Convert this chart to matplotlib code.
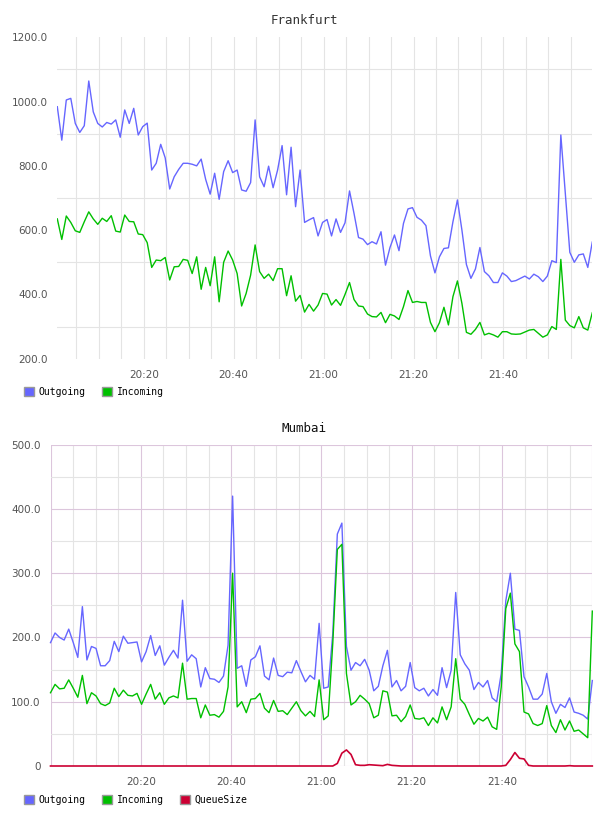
import numpy as np
import matplotlib
matplotlib.use("Agg")
import matplotlib.pyplot as plt
from matplotlib.patches import Patch

# Frankfurt: one sample per minute, first sample at about 20:00:46
fra_start = 0.77   # minutes after 20:00
fra_out = [984, 880, 1005, 1010, 932, 904, 925, 1064, 968, 932,
           921, 935, 930, 943, 889, 974, 932, 979, 896, 922,
           933, 787, 808, 867, 825, 728, 766, 789, 808, 808,
           805, 800, 821, 758, 712, 777, 696, 782, 816, 779,
           787, 725, 721, 748, 943, 766, 735, 799, 732, 787,
           863, 710, 858, 673, 787, 624, 632, 639, 582, 624,
           633, 582, 635, 593, 623, 722, 652, 577, 572, 555,
           564, 557, 595, 491, 546, 585, 536, 621, 666, 670,
           640, 631, 614, 520, 467, 517, 543, 545, 626, 694,
           600, 493, 450, 479, 546, 471, 458, 437, 437, 467,
           457, 440, 443, 450, 457, 448, 463, 455, 440, 457,
           505, 499, 896, 714, 531, 500, 523, 526, 484, 563]
fra_in = [635, 571, 644, 624, 598, 593, 626, 657, 635, 618,
          637, 627, 645, 597, 594, 647, 627, 626, 588, 586,
          561, 484, 507, 505, 515, 445, 486, 487, 509, 506,
          465, 517, 416, 484, 427, 517, 377, 500, 535, 507,
          465, 364, 403, 460, 554, 471, 450, 463, 443, 480,
          480, 396, 458, 379, 397, 345, 369, 348, 367, 403,
          401, 367, 384, 366, 400, 437, 384, 364, 362, 339,
          331, 330, 344, 312, 338, 333, 322, 362, 412, 375,
          378, 375, 375, 313, 284, 312, 360, 305, 393, 442,
          372, 282, 276, 291, 313, 274, 279, 274, 267, 284,
          284, 277, 276, 277, 283, 289, 291, 279, 267, 274,
          300, 291, 509, 320, 303, 296, 331, 296, 289, 343]

# Mumbai: 120 samples between 20:00 and 22:00
mum_span = 120.0
mum_out = [192, 207, 200, 196, 213, 192, 169, 248, 165, 186,
           183, 156, 156, 164, 194, 178, 202, 191, 192, 193,
           162, 178, 203, 172, 187, 157, 169, 180, 168, 258,
           163, 173, 167, 123, 153, 136, 135, 130, 140, 188,
           420, 152, 156, 124, 165, 170, 187, 140, 134, 168,
           141, 139, 146, 145, 164, 147, 131, 141, 135, 222,
           121, 123, 206, 361, 378, 186, 149, 161, 156, 166,
           149, 117, 124, 156, 180, 123, 133, 117, 124, 161,
           122, 117, 121, 109, 119, 110, 153, 122, 149, 270,
           173, 159, 149, 119, 130, 123, 133, 106, 100, 144,
           257, 300, 213, 211, 139, 123, 104, 104, 112, 144,
           100, 82, 96, 91, 106, 84, 82, 79, 73, 133]
mum_in = [114, 127, 120, 121, 134, 121, 107, 141, 97, 114,
          109, 97, 94, 98, 121, 108, 118, 110, 109, 113,
          96, 112, 127, 104, 114, 96, 106, 109, 106, 160,
          104, 105, 105, 75, 95, 79, 80, 76, 85, 123,
          300, 92, 100, 83, 104, 105, 113, 90, 83, 102,
          85, 86, 80, 90, 100, 86, 78, 85, 77, 134,
          72, 78, 191, 337, 345, 144, 95, 100, 110, 104,
          97, 75, 79, 117, 115, 78, 79, 69, 77, 95,
          74, 73, 75, 63, 75, 67, 92, 72, 92, 167,
          104, 96, 80, 65, 74, 70, 76, 61, 57, 123,
          245, 269, 190, 178, 84, 81, 66, 63, 66, 94,
          63, 52, 72, 56, 70, 54, 56, 50, 44, 241]
mum_queue = [0] * 63 + [4, 20, 25, 18, 2, 1, 1, 2, 1.5, 1,
                        0.5, 2.5, 1, 0.5] + [0] * 23 + \
            [1, 10, 21, 12, 11, 1] + [0] * 8 + [0.5] + [0] * 5

time_ticks = [20, 40, 60, 80, 100]
time_labels = ["20:20", "20:40", "21:00", "21:20", "21:40"]

C_OUT = "#6666ff"
C_IN = "#00c000"
C_Q = "#cc0033"
GRID = "#e4e4e4"
PURPLE = "#dcc6dc"
TXT = "#545454"
W, H = 608, 816

fra_t = fra_start + np.arange(len(fra_out))
mum_t = np.linspace(0, mum_span, len(mum_out))

fig = plt.figure(figsize=(W / 100, H / 100), dpi=100)
fig.patch.set_facecolor("white")


def box(x0, x1, y_top, y_bot):
    return [x0 / W, 1 - y_bot / H, (x1 - x0) / W, (y_bot - y_top) / H]


def fmt(v):
    return "0" if v == 0 else "%.1f" % v


def style(ax):
    for s in ax.spines.values():
        s.set_visible(False)
    ax.tick_params(which="both", length=0, labelsize=7.5, labelcolor=TXT)
    ax.tick_params(axis="x", pad=8)
    ax.tick_params(axis="y", pad=7)
    ax.set_axisbelow(True)


# ---- Frankfurt ----
ax1 = fig.add_axes(box(57.3, 592.3, 37.3, 358.7))
ax1.plot(fra_t, fra_out, color=C_OUT, lw=1.0)
ax1.plot(fra_t, fra_in, color=C_IN, lw=1.0)
ax1.set_xlim(fra_t[0], fra_t[-1])
ax1.set_ylim(200, 1200)
ax1.set_xticks(time_ticks)
ax1.set_xticklabels(time_labels)
ax1.set_xticks(np.arange(5, 120, 5), minor=True)
yt = np.arange(200, 1201, 200)
ax1.set_yticks(yt)
ax1.set_yticklabels([fmt(v) for v in yt])
ax1.set_yticks(np.arange(300, 1200, 200), minor=True)
ax1.grid(axis="x", which="both", color=GRID, lw=0.8)
ax1.grid(axis="y", which="minor", color=GRID, lw=0.8)
style(ax1)
fig.text(304 / W, 1 - 20 / H, "Frankfurt", ha="center", va="center",
         family="DejaVu Sans Mono", fontsize=9, color="#333333")

# ---- Mumbai ----
ax2 = fig.add_axes(box(50.5, 592.3, 444.7, 766))
ax2.plot(mum_t, mum_out, color=C_OUT, lw=1.0, clip_on=False)
ax2.plot(mum_t, mum_in, color=C_IN, lw=1.0, clip_on=False)
ax2.plot(mum_t, mum_queue, color=C_Q, lw=1.2, clip_on=False)
ax2.set_xlim(0, mum_span)
ax2.set_ylim(0, 500)
ax2.set_xticks(np.arange(0, 121, 20))
ax2.set_xticklabels([""] + time_labels + [""])
ax2.set_xticks(np.arange(5, 120, 5), minor=True)
yt2 = np.arange(0, 501, 100)
ax2.set_yticks(yt2)
ax2.set_yticklabels([fmt(v) for v in yt2])
ax2.set_yticks(np.arange(50, 500, 100), minor=True)
ax2.grid(which="minor", color=GRID, lw=0.8)
ax2.grid(which="major", color=PURPLE, lw=0.8)
style(ax2)
fig.text(304 / W, 1 - 429 / H, "Mumbai", ha="center", va="center",
         family="DejaVu Sans Mono", fontsize=9, color="#111111")

# ---- legends ----
def legend(items, y):
    handles = [Patch(facecolor=c, edgecolor="#999999", lw=1.0) for c, _ in items]
    fig.legend(handles, [n for _, n in items], loc="center left",
               bbox_to_anchor=(24 / W, 1 - y / H), ncol=len(items), frameon=False,
               prop={"family": "DejaVu Sans Mono", "size": 7},
               handlelength=1.0, handleheight=1.0, handletextpad=0.5,
               columnspacing=1.7, borderpad=0, borderaxespad=0)


legend([(C_OUT, "Outgoing"), (C_IN, "Incoming")], 392)
legend([(C_OUT, "Outgoing"), (C_IN, "Incoming"), (C_Q, "QueueSize")], 800)

fig.savefig("out.png", dpi=100, facecolor="white")
